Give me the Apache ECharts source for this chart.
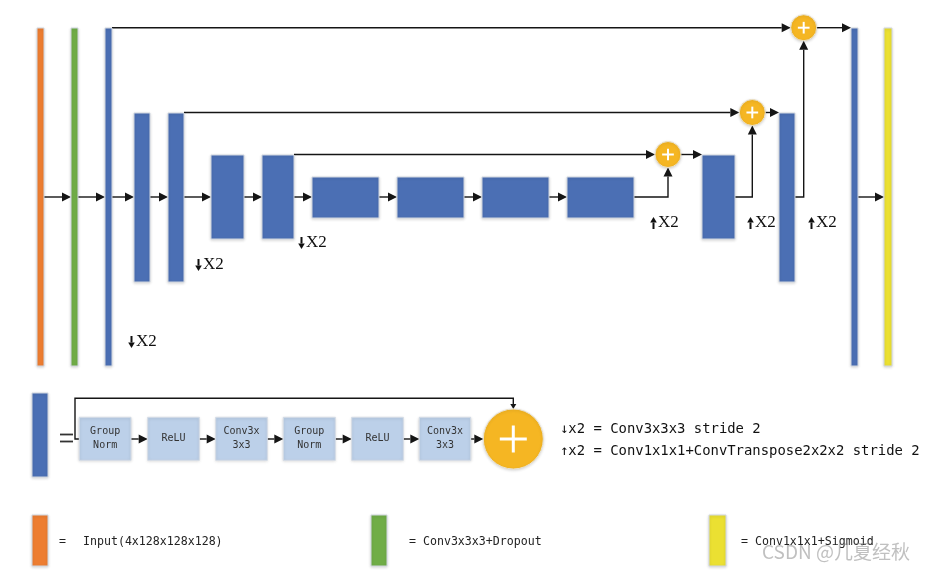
<!DOCTYPE html>
<html>
<head>
<meta charset="utf-8">
<script src="https://cdn.jsdelivr.net/npm/echarts@6/dist/echarts.min.js"></script>
<style>
html,body{margin:0;padding:0;background:#fff;}
#chart{width:929px;height:571px;}
</style>
</head>
<body>
<div id="chart"></div>
<script>
// ---- Diagram data (in diagram units, 1 unit = 1 px of the 929x571 canvas) ----
const COLORS = {orange:'#ED7D31', green:'#70AD47', blue:'#4B6FB4', yellow:'#EBE032'};

// U-Net blocks: [x0, y0, x1, y1, colour]
const mainBlocks = [
  [37,28,44,366,'orange'],
  [71,28,78,366,'green'],
  [105,28,112,366,'blue'],
  [134,113,150,282,'blue'],
  [168,113,184,282,'blue'],
  [211,155,244,239,'blue'],
  [262,155,294,239,'blue'],
  [312,177,379,218,'blue'],
  [397,177,464,218,'blue'],
  [482,177,549,218,'blue'],
  [567,177,634,218,'blue'],
  [702,155,735,239,'blue'],
  [779,113,795,282,'blue'],
  [851,28,858,366,'blue'],
  [884,28,892,366,'yellow']
];
const legendBlocks = [
  [32,393,48,477,'blue'],
  [32,515,48,566,'orange'],
  [371,515,387,566,'green'],
  [709,515,726,566,'yellow']
];
// residual block steps
const stepLabels = ['Group\nNorm','ReLU','Conv3x\n3x3','Group\nNorm','ReLU','Conv3x\n3x3'];
const stepBoxX = [[79.3,131],[147.7,199.3],[215.7,267.3],[283.3,335.3],[351.7,403.3],[419.3,470.7]];
const stepBoxY = [417.3,460.3];
// plus (sum) nodes: [cx, cy, r]
const plusNodes = [[668,154.5,13],[752.3,112.5,13],[803.7,27.7,13],[513.3,439,30]];
// connectors (polyline, arrow at the end)
const arrows = [
  [[44,197],[71,197]],
  [[78,197],[105,197]],
  [[112,197],[134,197]],
  [[150,197],[168,197]],
  [[184,197],[211,197]],
  [[244,197],[262,197]],
  [[294,197],[312,197]],
  [[379,197],[397,197]],
  [[464,197],[482,197]],
  [[549,197],[567,197]],
  [[634,197],[668,197],[668,167.5]],
  [[681,154.5],[702,154.5]],
  [[735,197],[752.3,197],[752.3,125.5]],
  [[765.3,112.5],[779,112.5]],
  [[795,197],[803.7,197],[803.7,40.7]],
  [[816.7,27.7],[851,27.7]],
  [[858,197],[884,197]],
  [[112,27.7],[790.7,27.7]],
  [[184,112.5],[739.3,112.5]],
  [[294,154.5],[655,154.5]],
  [[131,439],[147.7,439]],
  [[199.3,439],[215.7,439]],
  [[267.3,439],[283.3,439]],
  [[335.3,439],[351.7,439]],
  [[403.3,439],[419.3,439]],
  [[470.7,439],[483.3,439]]
];
const skipArrow = [[79.3,439],[75,439],[75,398.3],[513.3,398.3],[513.3,409]];
// texts
const downLabels = [[128,342],[195,265],[298,243]];
const upLabels = [[650,223],[747,223],[808,223]];
const noteLines = ['↓x2 = Conv3x3x3 stride 2','↑x2 = Conv1x1x1+ConvTranspose2x2x2 stride 2'];
const noteY = [429,451];
const legendTexts = [['=',59,541.7],['Input(4x128x128x128)',83,541.7],['= Conv3x3x3+Dropout',409,541.7],['= Conv1x1x1+Sigmoid',741,541.7]];
const watermark = ['CSDN @几夏经秋', 762, 552];

// ---- rendering helpers ----
const LINE = '#151515';
function arrowGroup(pts, api, head, half){
  const p = pts.map(q => api.coord(q));
  const n = p.length;
  const a = p[n-2], b = p[n-1];
  const dx = b[0]-a[0], dy = b[1]-a[1];
  const len = Math.sqrt(dx*dx+dy*dy) || 1;
  const ux = dx/len, uy = dy/len;
  const base = [b[0]-ux*head, b[1]-uy*head];
  const line = p.slice(0, n-1).concat([base]);
  return {type:'group', children:[
    {type:'polyline', shape:{points:line}, style:{stroke:LINE, lineWidth:1.4, fill:null}},
    {type:'polygon', shape:{points:[b,[base[0]-uy*half, base[1]+ux*half],[base[0]+uy*half, base[1]-ux*half]]}, style:{fill:LINE}}
  ]};
}
function rectEl(b, api, fill, stroke){
  const p0 = api.coord([b[0],b[1]]), p1 = api.coord([b[2],b[3]]);
  return {type:'rect', shape:{x:p0[0], y:p0[1], width:p1[0]-p0[0], height:p1[1]-p0[1]},
    style:{fill:fill, stroke:stroke, lineWidth:1, shadowBlur:3, shadowColor:'rgba(0,0,0,0.15)', shadowOffsetY:1}};
}

const allBlocks = mainBlocks.concat(legendBlocks);
const chart = echarts.init(document.getElementById('chart'), null, {renderer:'canvas'});
const base = {type:'custom', coordinateSystem:'cartesian2d', silent:true, clip:false, animation:false};

chart.setOption({
  animation:false,
  backgroundColor:'#ffffff',
  grid:{left:0, right:0, top:0, bottom:0},
  xAxis:{type:'value', min:0, max:929, show:false},
  yAxis:{type:'value', min:0, max:571, inverse:true, show:false},
  series:[
    Object.assign({}, base, {z:1,
      data: arrows.map(a => [a[0][0], a[0][1]]),
      renderItem:(params, api) => arrowGroup(arrows[params.dataIndex], api, 9, 4.5)
    }),
    Object.assign({}, base, {z:1,
      data: [[skipArrow[0][0], skipArrow[0][1]]],
      renderItem:(params, api) => arrowGroup(skipArrow, api, 5, 3)
    }),
    Object.assign({}, base, {z:2,
      data: allBlocks.map(b => [b[0], b[1], b[2], b[3]]),
      renderItem:(params, api) => {
        const b = allBlocks[params.dataIndex];
        return rectEl(b, api, COLORS[b[4]], '#d2d8e1');
      }
    }),
    Object.assign({}, base, {z:2,
      data: stepBoxX.map(s => [s[0], stepBoxY[0], s[1], stepBoxY[1]]),
      renderItem:(params, api) => {
        const s = stepBoxX[params.dataIndex];
        const r = rectEl([s[0], stepBoxY[0], s[1], stepBoxY[1]], api, '#BCD0E9', '#d5dce6');
        const c = api.coord([(s[0]+s[1])/2, (stepBoxY[0]+stepBoxY[1])/2]);
        return {type:'group', children:[r,
          {type:'text', x:c[0], y:c[1], style:{text:stepLabels[params.dataIndex], fill:'#333',
            font:'10px "DejaVu Sans Mono"', align:'center', verticalAlign:'middle', lineHeight:14}}]};
      }
    }),
    Object.assign({}, base, {z:3,
      data: plusNodes.map(p => [p[0], p[1]]),
      renderItem:(params, api) => {
        const p = plusNodes[params.dataIndex];
        const c = api.coord([p[0], p[1]]);
        const r = p[2];
        const arm = r*0.45, w = r > 20 ? 3 : 2;
        return {type:'group', children:[
          {type:'circle', shape:{cx:c[0], cy:c[1], r:r}, style:{fill:'#F5B623', stroke:'#e9e2d0', lineWidth:1, shadowBlur:3, shadowColor:'rgba(0,0,0,0.15)', shadowOffsetY:1}},
          {type:'line', shape:{x1:c[0]-arm, y1:c[1], x2:c[0]+arm, y2:c[1]}, style:{stroke:'#fff', lineWidth:w}},
          {type:'line', shape:{x1:c[0], y1:c[1]-arm, x2:c[0], y2:c[1]+arm}, style:{stroke:'#fff', lineWidth:w}}
        ]};
      }
    }),
    Object.assign({}, base, {z:4,
      data: downLabels.concat(upLabels),
      renderItem:(params, api) => {
        const i = params.dataIndex;
        const c = api.coord([api.value(0), api.value(1)]);
        const down = i < downLabels.length;
        const ax = c[0] + 3.5, cy = c[1];
        const tip = down ? cy + 6 : cy - 6;
        const hb = down ? cy + 0.5 : cy - 0.5;
        const tail = down ? cy - 6 : cy + 6;
        return {type:'group', children:[
          {type:'line', shape:{x1:ax, y1:tail, x2:ax, y2:hb}, style:{stroke:'#111', lineWidth:2}},
          {type:'polygon', shape:{points:[[ax, tip],[ax-3.3, hb],[ax+3.3, hb]]}, style:{fill:'#111'}},
          {type:'text', x:c[0]+8, y:c[1], style:{text:'X2', fill:'#111',
            font:'17px "Liberation Serif"', align:'left', verticalAlign:'middle'}}
        ]};
      }
    }),
    Object.assign({}, base, {z:4,
      data: noteLines.map((t,i) => [560, noteY[i]]),
      renderItem:(params, api) => {
        const c = api.coord([api.value(0), api.value(1)]);
        return {type:'text', x:c[0], y:c[1], style:{text:noteLines[params.dataIndex], fill:'#111',
          font:'13.9px "DejaVu Sans Mono"', align:'left', verticalAlign:'middle'}};
      }
    }),
    Object.assign({}, base, {z:4,
      data: legendTexts.map(t => [t[1], t[2]]),
      renderItem:(params, api) => {
        const c = api.coord([api.value(0), api.value(1)]);
        return {type:'text', x:c[0], y:c[1], style:{text:legendTexts[params.dataIndex][0], fill:'#222',
          font:'11.6px "DejaVu Sans Mono"', align:'left', verticalAlign:'middle'}};
      }
    }),
    Object.assign({}, base, {z:4,
      data: [[60, 434.5, 73, 441.5]],
      renderItem:(params, api) => {
        const a = api.coord([api.value(0), api.value(1)]);
        const b = api.coord([api.value(2), api.value(3)]);
        return {type:'group', children:[
          {type:'line', shape:{x1:a[0], y1:a[1], x2:b[0], y2:a[1]}, style:{stroke:'#333', lineWidth:1.8}},
          {type:'line', shape:{x1:a[0], y1:b[1], x2:b[0], y2:b[1]}, style:{stroke:'#333', lineWidth:1.8}}
        ]};
      }
    }),
    Object.assign({}, base, {z:5,
      data: [[watermark[1], watermark[2]]],
      renderItem:(params, api) => {
        const c = api.coord([api.value(0), api.value(1)]);
        return {type:'text', x:c[0], y:c[1], style:{text:watermark[0], fill:'rgba(130,130,130,0.5)',
          font:'19px "Noto Sans CJK SC"', align:'left', verticalAlign:'middle'}};
      }
    })
  ]
});
</script>
</body>
</html>
